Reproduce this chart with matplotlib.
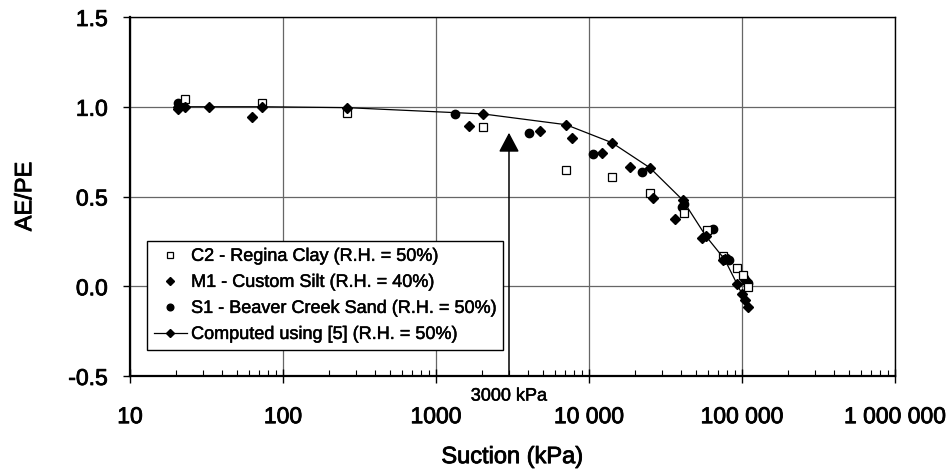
import matplotlib
matplotlib.use("Agg")
import matplotlib.pyplot as plt
from matplotlib import ticker
import matplotlib.patheffects as pe

plt.rcParams['font.family'] = ['Liberation Sans', 'DejaVu Sans']

# C2 - Regina Clay (open squares)
c2_x = [23, 73, 262, 2030, 7080, 14100, 25000, 41500, 59000, 75000, 92700, 101600, 110000]
c2_y = [1.045, 1.02, 0.967, 0.889, 0.65, 0.606, 0.517, 0.406, 0.311, 0.17, 0.10, 0.061, -0.005]

# M1 - Custom Silt (diamonds)
m1_x = [20.6, 62.7, 1640, 4790, 7740, 12170, 18500, 26200, 36500, 55000, 75000, 100000, 104000]
m1_y = [0.99, 0.944, 0.894, 0.867, 0.828, 0.744, 0.667, 0.494, 0.372, 0.267, 0.144, -0.045, -0.078]

# S1 - Beaver Creek Sand (circles)
s1_x = [20.5, 1330, 4050, 10600, 22200, 40500, 42000, 65000, 79000, 82000, 103000, 106000, 110000]
s1_y = [1.02, 0.961, 0.855, 0.739, 0.636, 0.444, 0.46, 0.317, 0.156, 0.145, 0.045, 0.03, 0.02]

# computed curve
comp_x = [20.6, 23, 33, 73, 262, 2030, 7080, 14100, 25000, 41000, 58000, 77000, 93000, 110000]
comp_y = [1.0, 1.0, 1.0, 1.0, 0.995, 0.96, 0.90, 0.80, 0.66, 0.48, 0.28, 0.15, 0.011, -0.115]

xticks = [10, 100, 1000, 10000, 100000, 1000000]
xtick_labels = ["10", "100", "1000", "10 000", "100 000", "1 000 000"]
yticks = [-0.5, 0.0, 0.5, 1.0, 1.5]

# a bit heavier than regular, closer to the medium weight of the original
heavy = [pe.withStroke(linewidth=0.6, foreground="black")]
light = [pe.withStroke(linewidth=0.35, foreground="black")]

fig = plt.figure(figsize=(9.5, 4.7), dpi=100)
ax = fig.add_axes([130/950, 94/470, 765/950, 359/470])

ax.set_xscale("log")
ax.set_xlim(10, 1e6)
ax.set_ylim(-0.5, 1.5)

ax.grid(True, which="major", color="0.4", lw=0.9, zorder=0)
ax.set_axisbelow(True)

ax.plot(s1_x, s1_y, "o", color="black", ms=6, zorder=3,
        label="S1 - Beaver Creek Sand (R.H. = 50%)")
ax.plot(c2_x, c2_y, "s", mfc="white", mec="black", mew=0.9, ms=5.3, zorder=4,
        label="C2 - Regina Clay (R.H. = 50%)")
ax.plot(m1_x, m1_y, "D", color="black", ms=4.6, zorder=5,
        label="M1 - Custom Silt (R.H. = 40%)")
ax.plot(comp_x, comp_y, "-D", color="black", lw=0.9, ms=4.6, zorder=5,
        label="Computed using [5] (R.H. = 50%)")

# 3000 kPa marker
ax.annotate("", xy=(3000, 0.855), xytext=(3000, -0.5),
            arrowprops=dict(arrowstyle="-|>,head_length=0.85,head_width=0.45",
                            mutation_scale=14, color="black", lw=1.1,
                            shrinkA=0, shrinkB=0), zorder=6)
ax.text(3000, -0.612, "3000 kPa", ha="center", va="center", fontsize=13, path_effects=light)

ax.xaxis.set_major_locator(ticker.FixedLocator(xticks))
ax.xaxis.set_major_formatter(ticker.FixedFormatter(xtick_labels))
ax.xaxis.set_minor_locator(ticker.LogLocator(base=10, subs=range(2, 10), numticks=20))
ax.xaxis.set_minor_formatter(ticker.NullFormatter())
ax.set_yticks(yticks)
ax.yaxis.set_major_formatter(ticker.FormatStrFormatter("%.1f"))

ax.tick_params(axis="x", which="major", direction="inout", length=10, width=1, pad=16, labelsize=16.5)
ax.tick_params(axis="x", which="minor", direction="in", length=4, width=0.8)
ax.tick_params(axis="y", which="major", direction="out", length=5, width=1, pad=11, labelsize=16.5)
for t in ax.get_xticklabels() + ax.get_yticklabels():
    t.set_path_effects(heavy)

for s in ["left", "bottom"]:
    ax.spines[s].set_linewidth(1.6)
for s in ["top", "right"]:
    ax.spines[s].set_linewidth(1.0)

ax.set_xlabel("Suction (kPa)", fontsize=17, path_effects=heavy)
ax.set_ylabel("AE/PE", fontsize=17, path_effects=heavy)
ax.xaxis.set_label_coords(0.5, -0.226)
ax.xaxis.label.set_va("center")
ax.yaxis.set_label_coords(-0.137, 0.5)
ax.yaxis.label.set_va("center")

h, l = ax.get_legend_handles_labels()
order = [1, 2, 0, 3]
leg = ax.legend([h[i] for i in order], [l[i] for i in order],
                loc="lower left", bbox_to_anchor=(0.022, 0.072), borderaxespad=0,
                fontsize=13, fancybox=False, framealpha=1, edgecolor="black",
                handlelength=1.8, handletextpad=0.25, labelspacing=0.5, borderpad=0.4,
                markerscale=0.8)
leg.get_frame().set_linewidth(1.0)
leg.set_zorder(7)
for t in leg.get_texts():
    t.set_path_effects(light)

plt.savefig("out.png", dpi=100)
